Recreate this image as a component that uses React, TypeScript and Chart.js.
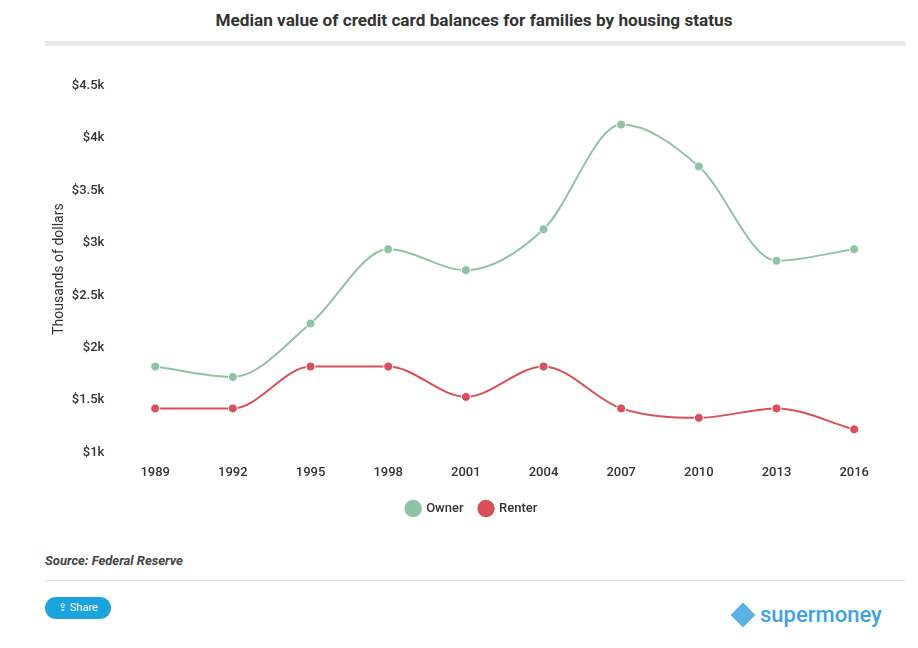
import { useEffect, useRef } from "react"
import { Chart, registerables } from "chart.js"

Chart.register(...registerables)

const years = ["1989", "1992", "1995", "1998", "2001", "2004", "2007", "2010", "2013", "2016"]
const owner = [1.82, 1.72, 2.23, 2.94, 2.74, 3.13, 4.13, 3.73, 2.83, 2.94]
const renter = [1.42, 1.42, 1.82, 1.82, 1.53, 1.82, 1.42, 1.33, 1.42, 1.22]

const font = "Roboto, 'Open Sans', sans-serif"

export default function App() {
  const chartRef = useRef<HTMLCanvasElement>(null)

  useEffect(() => {
    if (!chartRef.current) return
    const chart = new Chart(chartRef.current, {
      type: "line",
      data: {
        labels: years,
        datasets: [
          {
            label: "Owner",
            data: owner,
            borderColor: "#8ec3a3",
            backgroundColor: "#8ec3a3",
            borderWidth: 2,
            pointRadius: 4.5,
            pointBorderColor: "#fff",
            pointBorderWidth: 1,
            cubicInterpolationMode: "monotone",
          },
          {
            label: "Renter",
            data: renter,
            borderColor: "#d9505a",
            backgroundColor: "#d9505a",
            borderWidth: 2,
            pointRadius: 4.5,
            pointBorderColor: "#fff",
            pointBorderWidth: 1,
            cubicInterpolationMode: "monotone",
          },
        ],
      },
      options: {
        animation: false,
        responsive: true,
        maintainAspectRatio: false,
        layout: { padding: { left: 6, right: 12, top: 0, bottom: 0 } },
        scales: {
          x: {
            offset: true,
            grid: { display: false },
            border: { display: false },
            ticks: { color: "#333", font: { family: font, size: 13, weight: 500 }, padding: 5 },
          },
          y: {
            min: 1,
            max: 4.5,
            grid: { display: false },
            border: { display: false },
            ticks: {
              stepSize: 0.5,
              color: "#333",
              padding: 4,
              font: { family: font, size: 13, weight: 500 },
              callback: (v) => "$" + v + "k",
            },
            title: {
              display: true,
              text: "Thousands of dollars",
              color: "#333",
              padding: 0,
              font: { family: font, size: 14 },
            },
          },
        },
        plugins: {
          tooltip: { enabled: false },
          legend: {
            position: "bottom",
            labels: {
              usePointStyle: true,
              pointStyle: "circle",
              boxWidth: 14,
              boxHeight: 14,
              padding: 16,
              color: "#333",
              font: { family: font, size: 13, weight: 500 },
            },
          },
        },
      },
    })
    return () => chart.destroy()
  }, [])

  return (
    <div style={{ position: "relative", width: 902, height: 632, fontFamily: font, color: "#333" }}>
      <div style={{ position: "absolute", top: 2, left: 7, width: 918, textAlign: "center", fontWeight: 700, fontSize: 17.2, color: "#333" }}>
        Median value of credit card balances for families by housing status
      </div>
      <div style={{ position: "absolute", top: 33, left: 37, width: 860, height: 5, background: "#e8e8e8" }} />
      <div style={{ position: "absolute", top: 66, left: 37, width: 860, height: 451 }}>
        <canvas ref={chartRef} />
      </div>
      <div style={{ position: "absolute", top: 545, left: 37, fontSize: 13, fontWeight: 700, fontStyle: "italic", color: "#444" }}>
        Source: Federal Reserve
      </div>
      <div style={{ position: "absolute", top: 572, left: 37, width: 860, height: 1, background: "#ddd" }} />
      <div style={{ position: "absolute", top: 589, left: 37, width: 66, height: 22, borderRadius: 11, background: "#1aa3dd", color: "#fff", fontSize: 11, lineHeight: "22px", textAlign: "center" }}>
        ⇪ Share
      </div>
      <div style={{ position: "absolute", top: 594, left: 724, display: "flex", alignItems: "center", gap: 6 }}>
        <div style={{ width: 22, height: 22, background: "#5ab3e3", transform: "rotate(45deg) scale(0.8)" }} />
        <span style={{ fontSize: 22, fontWeight: 500, color: "#3fa3dc" }}>supermoney</span>
      </div>
    </div>
  )
}
